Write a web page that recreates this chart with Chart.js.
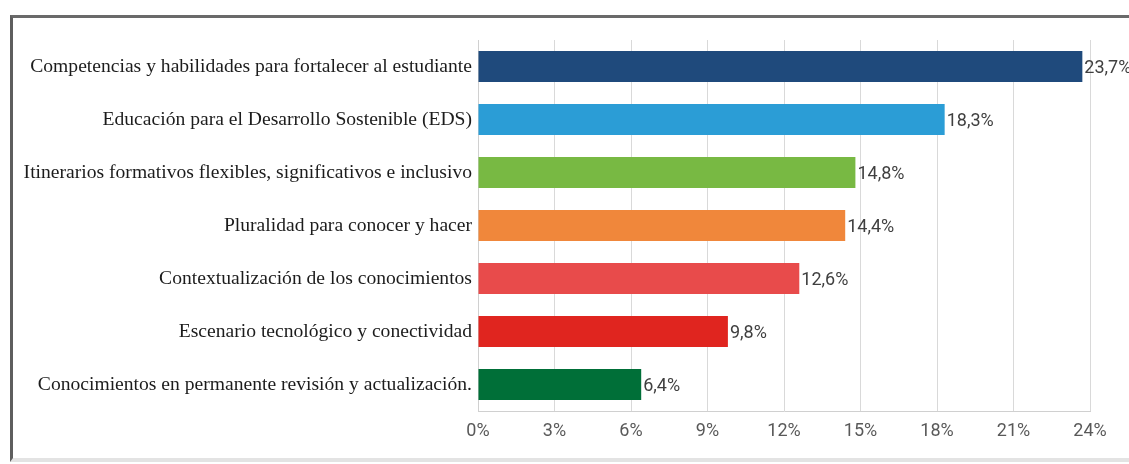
<!DOCTYPE html>
<html lang="es">
  <head>
    <meta charset="UTF-8" />
    <title>Ejes</title>
    <style>
      body{
          margin: 0;
          background: #ffffff;
      }
      .marco{
          position: absolute;
          left: 10px;
          top: 15px;
          width: 1119px;
          height: 440px;
          border-left: 3px solid #5e5e5e;
          border-top: 3px solid #6a6a6a;
          border-bottom: 4px solid #e3e3e3;
          background: #ffffff;
      }
      .marco canvas{
          display: block;
      }
    </style>
  </head>
  <body>
    <div class="marco">
      <canvas id="grafico"></canvas>
    </div>

    <script src="https://cdn.jsdelivr.net/npm/chart.js@4/dist/chart.umd.min.js"></script>
    <script>
    const categorias = [
        'Competencias y habilidades para fortalecer al estudiante',
        'Educación para el Desarrollo Sostenible (EDS)',
        'Itinerarios formativos flexibles, significativos e inclusivo',
        'Pluralidad para conocer y hacer',
        'Contextualización de los conocimientos',
        'Escenario tecnológico y conectividad',
        'Conocimientos en permanente revisión y actualización.'
    ];
    const porcentajes = [23.7, 18.3, 14.8, 14.4, 12.6, 9.8, 6.4];
    const colores = ['#1f4a7c', '#2b9dd6', '#78b943', '#f0873b', '#e84b4b', '#e0251f', '#006f38'];
    const ticksX = [0, 3, 6, 9, 12, 15, 18, 21, 24];

    const fuenteNum = "Roboto, 'Liberation Sans', sans-serif";

    // escribe el valor al final de cada barra
    const etiquetasValor = {
        id: 'etiquetasValor',
        afterDatasetsDraw(chart){
            const ctx = chart.ctx;
            const meta = chart.getDatasetMeta(0);
            ctx.save();
            ctx.font = '18px ' + fuenteNum;
            ctx.fillStyle = '#3f3f3f';
            ctx.textAlign = 'left';
            ctx.textBaseline = 'middle';
            meta.data.forEach(function(bar, i){
                const txt = porcentajes[i].toFixed(1).replace('.', ',') + '%';
                ctx.fillText(txt, bar.x + 2, bar.y + 2);
            });
            ctx.restore();
        }
    };

    const ctx = document.getElementById('grafico');
    ctx.width = 1116;
    ctx.height = 440;

    new Chart(ctx, {
        type: 'bar',
        data: {
            labels: categorias,
            datasets: [{
                data: porcentajes,
                backgroundColor: colores,
                borderWidth: 0,
                barPercentage: 0.73,
                categoryPercentage: 0.8
            }]
        },
        options: {
            indexAxis: 'y',
            responsive: false,
            animation: false,
            layout: {
                padding: {top: 22, right: 39, bottom: 0, left: 0}
            },
            plugins: {
                legend: {display: false},
                tooltip: {enabled: false}
            },
            scales: {
                x: {
                    min: 0,
                    max: 24,
                    afterBuildTicks(scale){
                        scale.ticks = ticksX.map(v => ({value: v}));
                    },
                    afterFit(scale){
                        scale.height = 47;
                    },
                    grid: {
                        color: '#d9d9d9',
                        drawTicks: false
                    },
                    border: {color: '#d0d0d0'},
                    ticks: {
                        padding: 10,
                        color: '#595959',
                        font: {family: fuenteNum, size: 18},
                        callback: v => v + '%'
                    }
                },
                y: {
                    afterFit(scale){
                        scale.width = 465;
                    },
                    grid: {display: false, drawTicks: false},
                    border: {color: '#d0d0d0'},
                    ticks: {
                        padding: 6,
                        color: '#1c1c1c',
                        font: {family: "'Liberation Serif', 'Times New Roman', serif", size: 19.6}
                    }
                }
            }
        },
        plugins: [etiquetasValor]
    });
    </script>
  </body>
</html>
